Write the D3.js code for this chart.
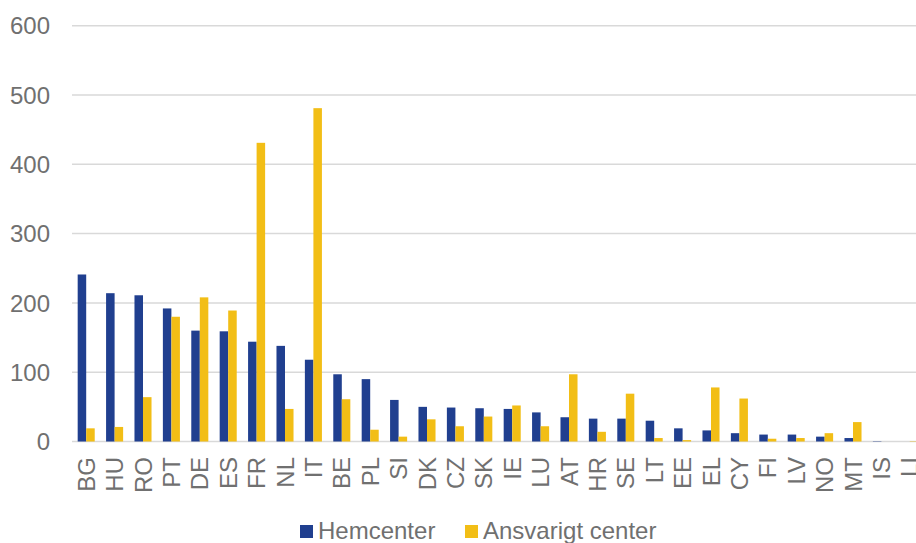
<!DOCTYPE html>
<html><head><meta charset="utf-8">
<script src="https://cdn.jsdelivr.net/npm/d3@7"></script>
<style>body{margin:0;background:#fff;overflow:hidden}svg{display:block}</style>
</head><body>
<script>
const categories = ["BG","HU","RO","PT","DE","ES","FR","NL","IT","BE","PL","SI","DK","CZ","SK","IE","LU","AT","HR","SE","LT","EE","EL","CY","FI","LV","NO","MT","IS","LI"];
const hemcenter = [241,214,211,192,160,159,144,138,118,97,90,60,50,49,48,47,42,35,33,33,30,19,16,12,10,10,7,5,0.5,0];
const ansvarigt = [19,21,64,180,208,189,431,47,481,61,17,7,32,22,36,52,22,97,14,69,5,2,78,62,4,5,12,28,0,0.5];
const yTicks = [0,100,200,300,400,500,600];
const seriesNames = ["Hemcenter","Ansvarigt center"];
const colors = ["#203F8F","#F2BE16"];

const W=916,H=543;
const svg=d3.select("body").append("svg").attr("width",W).attr("height",H);
const font="Liberation Sans, Arial, sans-serif";
const txt="#707070";
const x=d3.scaleBand().domain(categories).range([72,924]).paddingInner(0).paddingOuter(0);
const y=d3.scaleLinear().domain([0,600]).range([441.5,25.7]);
const bw=x.step()*0.3;

svg.append("g").selectAll("line").data(yTicks).join("line")
 .attr("x1",72).attr("x2",W).attr("y1",d=>y(d)).attr("y2",d=>y(d))
 .attr("stroke","#D9D9D9").attr("stroke-width",1.5);

svg.append("g").selectAll("text").data(yTicks).join("text")
 .attr("x",50).attr("y",d=>y(d)).attr("dy","0.36em").attr("text-anchor","end")
 .attr("font-family",font).attr("font-size",24).attr("fill",txt).text(d=>d);

const series=[hemcenter,ansvarigt];
series.forEach((vals,si)=>{
  svg.append("g").selectAll("rect").data(categories).join("rect")
   .attr("x",(d)=>x(d)+x.step()/2-bw+si*bw)
   .attr("width",bw)
   .attr("y",(d,i)=>y(vals[i]))
   .attr("height",(d,i)=>y(0)-y(vals[i]))
   .attr("fill",colors[si]);
});

svg.append("g").selectAll("text").data(categories).join("text")
 .attr("transform",d=>`translate(${x(d)+x.step()/2},457) rotate(-90)`)
 .attr("dy","0.36em").attr("text-anchor","end")
 .attr("font-family",font).attr("font-size",24).attr("fill",txt).text(d=>d);

const lg=svg.append("g");
const lx=[300,465];
seriesNames.forEach((n,i)=>{
  lg.append("rect").attr("x",lx[i]).attr("y",525).attr("width",13).attr("height",13).attr("fill",colors[i]);
  lg.append("text").attr("x",lx[i]+18).attr("y",539).attr("font-family",font).attr("font-size",24).attr("fill",txt).text(n);
});
</script>
</body></html>
